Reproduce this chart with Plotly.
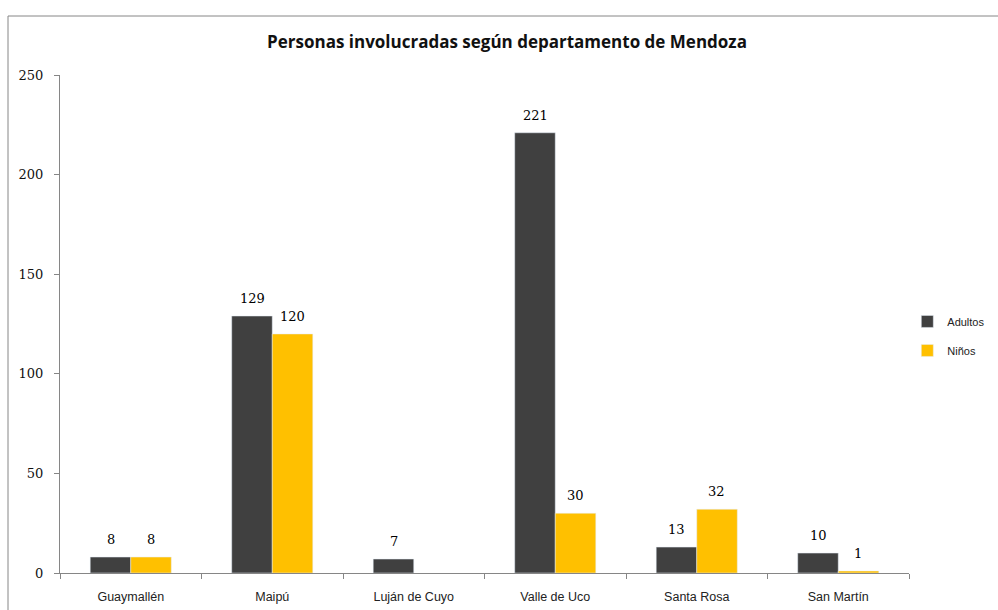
import plotly.graph_objects as go

categories = ["Guaymallén", "Maipú", "Luján de Cuyo", "Valle de Uco", "Santa Rosa", "San Martín"]
adultos = [8, 129, 7, 221, 13, 10]
ninos = [8, 120, None, 30, 32, 1]
title = "Personas involucradas según departamento de Mendoza"
y_ticks = [0, 50, 100, 150, 200, 250]

label_font = dict(family="DejaVu Serif", size=13, color="#000")

fig = go.Figure()
fig.add_trace(go.Bar(name="Adultos", x=categories, y=adultos, marker_color="#404040",
                     legendgroup="a", offsetgroup="a"))
fig.add_trace(go.Bar(name="Niños", x=categories, y=ninos, marker_color="#FFC000",
                     legendgroup="n", offsetgroup="n"))

# value labels above bars (data coordinates, shifted up)
for series, shift in ((adultos, -0.143), (ninos, 0.143)):
    for i, v in enumerate(series):
        if v is None:
            continue
        fig.add_annotation(x=i + shift, y=v, xref="x", yref="y", text=str(v),
                           showarrow=False, yanchor="bottom", yshift=8,
                           font=label_font)

fig.update_layout(
    width=998, height=610,
    margin=dict(l=60, r=89, t=75, b=37, autoexpand=False),
    paper_bgcolor="white", plot_bgcolor="white",
    barmode="group", bargap=0.427, bargroupgap=0,
    title=dict(text="<b>" + title + "</b>", x=0.508, xanchor="center", y=1 - 42 / 610, yanchor="middle",
               font=dict(family="Open Sans", size=17, color="#111")),
    legend=dict(x=0.998, xanchor="left", y=0.476, yanchor="middle",
                font=dict(family="Liberation Sans", size=11, color="#222"),
                itemwidth=30, tracegroupgap=10, traceorder="grouped", bgcolor="rgba(0,0,0,0)"),
    showlegend=True,
)
fig.update_xaxes(showline=True, linecolor="#868686", linewidth=1,
                 ticks="outside", tickson="boundaries", ticklen=5, tickcolor="#868686",
                 tickfont=dict(family="Liberation Sans", size=12.5, color="#222"),
                 ticklabelstandoff=12, showgrid=False)
fig.update_yaxes(range=[0, 250], tickvals=y_ticks, showline=True, linecolor="#868686", linewidth=1,
                 ticks="outside", ticklen=5, tickcolor="#868686", showgrid=False, zeroline=False,
                 ticklabelstandoff=8,
                 tickfont=dict(family="DejaVu Serif", size=13, color="#111"))

fig.add_shape(type="rect", xref="paper", yref="paper",
              x0=-52 / 849, x1=1.2, y0=-0.2, y1=(573 - 16) / 498,
              line=dict(color="#868686", width=1), fillcolor="rgba(0,0,0,0)", layer="below")

fig.write_html("out.html", config={"displayModeBar": False},
               post_script="document.body.style.margin='0';document.body.style.overflow='hidden';")
